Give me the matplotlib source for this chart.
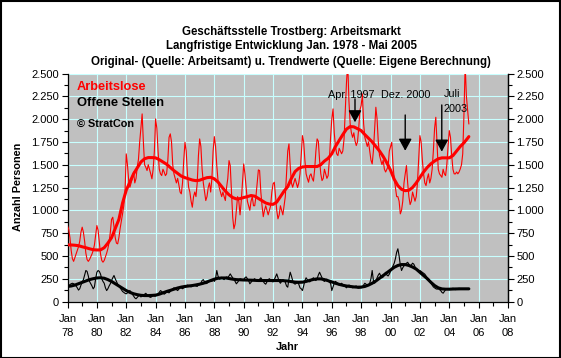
import matplotlib
matplotlib.use('Agg')
import matplotlib.pyplot as plt
import numpy as np
from matplotlib.ticker import MultipleLocator, FuncFormatter, FixedLocator
from matplotlib.patches import Rectangle

plt.rcParams['font.family'] = ['Liberation Sans', 'DejaVu Sans']

# ---------------- data ----------------
start_year = 1978  # Jan 1978, monthly values up to May 2005

arbeitslose = [
    833, 790, 700, 560, 470, 440, 480, 520, 560, 600, 660, 760,      # 1978
    815, 760, 660, 530, 460, 440, 460, 490, 520, 560, 620, 730,      # 1979
    833, 780, 650, 520, 450, 431, 450, 490, 530, 580, 650, 760,      # 1980
    900, 924, 820, 700, 640, 632, 700, 800, 880, 961, 1050, 1200,    # 1981
    1619, 1500, 1326, 1253, 1300, 1350, 1420, 1300, 1350, 1472, 1560, 1750,  # 1982
    1900, 2057, 1750, 1500, 1472, 1436, 1500, 1450, 1400, 1345, 1450, 1650,  # 1983
    2002, 1900, 1650, 1450, 1400, 1381, 1450, 1420, 1380, 1400, 1550, 1800,  # 1984
    1838, 1750, 1500, 1400, 1350, 1300, 1350, 1280, 1200, 1180, 1300, 1550,  # 1985
    1746, 1650, 1400, 1253, 1200, 1100, 1034, 1150, 1200, 1150, 1300, 1600,  # 1986
    1783, 1700, 1450, 1300, 1200, 1107, 1150, 1250, 1300, 1200, 1350, 1650,  # 1987
    1808, 1700, 1490, 1326, 1250, 1200, 1150, 1200, 1150, 1107, 1250, 1350,  # 1988
    1545, 1490, 1200, 924, 797, 850, 1000, 1150, 1100, 950, 1100, 1300,      # 1989
    1509, 1399, 1250, 1100, 1050, 1000, 1100, 1150, 1050, 1050, 1150, 1300,  # 1990
    1443, 1436, 1200, 1050, 930, 1000, 1050, 1000, 950, 1000, 1050, 1200,   # 1991
    1290, 1308, 1150, 1000, 906, 950, 1050, 1000, 950, 1050, 1150, 1400,    # 1992
    1650, 1728, 1490, 1300, 1253, 1300, 1350, 1300, 1250, 1300, 1400, 1600,  # 1993
    1819, 1750, 1550, 1400, 1350, 1308, 1380, 1400, 1350, 1320, 1450, 1650,  # 1994
    1783, 1757, 1550, 1400, 1326, 1350, 1450, 1400, 1350, 1380, 1550, 1800,  # 1995
    2000, 2112, 1850, 1700, 1619, 1600, 1680, 1650, 1620, 1650, 1780, 2100,  # 1996
    2400, 2620, 2200, 1950, 1850, 1800, 1850, 1760, 1710, 1750, 1900, 2100,  # 1997
    2150, 2276, 1950, 1800, 1750, 1700, 1750, 1650, 1550, 1509, 1650, 1900,  # 1998
    2130, 2000, 1750, 1600, 1550, 1500, 1550, 1450, 1420, 1450, 1480, 1650,  # 1999
    1700, 1746, 1500, 1350, 1250, 1150, 1150, 1100, 961, 1000, 1100, 1300,   # 2000
    1400, 1490, 1300, 1150, 1063, 1100, 1200, 1150, 1100, 1150, 1300, 1550,  # 2001
    1819, 1750, 1550, 1400, 1300, 1271, 1350, 1400, 1300, 1350, 1450, 1650,  # 2002
    1900, 2020, 1728, 1450, 1400, 1380, 1362, 1450, 1400, 1380, 1500, 1700,  # 2003
    1874, 1800, 1600, 1450, 1400, 1399, 1420, 1400, 1420, 1454, 1500, 1619,  # 2004
    2050, 2600, 2250, 2100, 1948,                                            # 2005
]

offene_stellen = [
    160, 170, 185, 195, 200, 195, 185, 170, 150, 125, 140, 180,      # 1978
    212, 240, 290, 340, 330, 280, 220, 194, 170, 139, 160, 250,      # 1979
    321, 340, 330, 300, 249, 220, 200, 150, 120, 140, 170, 194,      # 1980
    230, 260, 285, 250, 220, 190, 170, 150, 130, 110, 100, 90,       # 1981
    84, 95, 110, 120, 100, 80, 60, 40, 30, 45, 60, 70,               # 1982
    50, 60, 70, 80, 90, 75, 60, 50, 45, 55, 65, 60,                  # 1983
    60, 70, 85, 100, 120, 110, 95, 80, 90, 105, 100, 95,             # 1984
    110, 125, 140, 150, 145, 130, 120, 135, 160, 150, 140, 150,      # 1985
    155, 165, 180, 175, 170, 160, 175, 180, 175, 170, 165, 180,      # 1986
    185, 200, 230, 240, 215, 195, 200, 210, 225, 230, 220, 240,      # 1987
    220, 250, 340, 280, 245, 250, 265, 250, 240, 260, 270, 265,      # 1988
    280, 303, 280, 260, 240, 220, 194, 210, 230, 250, 245, 230,      # 1989
    240, 260, 270, 250, 230, 194, 210, 230, 240, 250, 230, 220,      # 1990
    225, 245, 260, 240, 220, 200, 190, 215, 240, 250, 235, 220,      # 1991
    215, 240, 270, 303, 260, 220, 200, 220, 240, 230, 210, 170,      # 1992
    157, 250, 321, 280, 230, 200, 190, 200, 210, 190, 150, 140,      # 1993
    120, 170, 230, 260, 240, 220, 215, 230, 250, 260, 240, 230,      # 1994
    250, 290, 321, 290, 260, 230, 220, 240, 245, 230, 210, 200,      # 1995
    120, 160, 200, 220, 210, 200, 180, 190, 200, 185, 170, 165,      # 1996
    150, 170, 180, 175, 160, 150, 155, 165, 170, 150, 145, 150,      # 1997
    150, 160, 180, 200, 190, 175, 180, 200, 250, 340, 230, 200,      # 1998
    220, 260, 290, 310, 280, 260, 270, 300, 320, 290, 280, 300,      # 1999
    330, 360, 390, 420, 470, 540, 578, 500, 400, 340, 370, 390,      # 2000
    400, 420, 430, 410, 390, 400, 420, 410, 380, 360, 350, 340,      # 2001
    340, 330, 320, 310, 300, 280, 260, 250, 230, 200, 180, 160,      # 2002
    150, 140, 135, 140, 130, 120, 100, 91, 110, 130, 140, 135,       # 2003
    130, 135, 140, 145, 140, 130, 135, 140, 145, 140, 135, 140,      # 2004
    140, 138, 140, 142, 139,                                         # 2005
]

# quarterly trend values (Jan, Apr, Jul, Oct), last value = May 2005
trend_arbeitslose = [
    621, 620, 617, 612,  600, 590, 578, 568,  565, 566, 590, 640,
    700, 800, 900, 1080,  1220, 1310, 1400, 1465,  1530, 1565, 1578, 1578,
    1575, 1555, 1530, 1505,  1470, 1435, 1405, 1375,  1358, 1345, 1332, 1325,
    1330, 1345, 1358, 1362,  1345, 1310, 1260, 1210,  1170, 1140, 1125, 1128,
    1140, 1150, 1162, 1155,  1130, 1105, 1080, 1068,  1065, 1090, 1150, 1210,
    1260, 1350, 1425, 1460,  1475, 1480, 1480, 1480,  1480, 1500, 1540, 1570,
    1620, 1700, 1765, 1830,  1890, 1918, 1915, 1895,  1874, 1830, 1790, 1750,
    1700, 1650, 1590, 1520,  1440, 1340, 1270, 1230,  1215, 1220, 1250, 1300,
    1360, 1420, 1470, 1510,  1540, 1565, 1575, 1575,  1575, 1600, 1650, 1700,
    1740, 1790, 1808,
]
trend_offene_stellen = [
    165, 170, 180, 195,  210, 225, 240, 250,  258, 260, 255, 240,
    220, 195, 170, 145,  120, 100, 85, 75,  68, 65, 65, 67,
    70, 80, 95, 110,  122, 135, 148, 158,  165, 170, 175, 182,
    190, 200, 215, 230,  245, 255, 258, 258,  252, 245, 240, 238,
    236, 235, 234, 232,  230, 230, 230, 230,  230, 230, 230, 228,
    225, 218, 212, 210,  212, 220, 232, 242,  248, 248, 240, 228,
    215, 200, 188, 178,  170, 165, 160, 157,  158, 165, 180, 200,
    225, 255, 285, 315,  345, 375, 395, 405,  405, 395, 378, 355,
    320, 285, 250, 210,  175, 150, 138, 135,  135, 137, 138, 139,
    139, 139, 139,
]

y_ticks = [0, 250, 500, 750, 1000, 1250, 1500, 1750, 2000, 2250, 2500]
x_tick_years = list(range(1978, 2009, 2))

# annotations: (text, x_year, y_value, alignment)
annot_texts = [("Apr. 1997", 1997.35, 2262, 'center'),
               ("Dez. 2000", 2001.05, 2262, 'center'),
               ("Juli", 2003.61, 2270, 'left'),
               ("2003", 2003.61, 2110, 'left')]
# arrows: (x_year, top_value, tip_value)
arrows = [(1997.58, 2222, 1965), (2001.0, 2045, 1653), (2003.49, 2155, 1643)]

# ---------------- figure ----------------
W, H = 561, 358
fig = plt.figure(figsize=(W / 100, H / 100), dpi=100)
fig.patch.set_facecolor('white')

L, R, T, B = 67.5, 508, 73.5, 301.5
ax = fig.add_axes([L / W, 1 - B / H, (R - L) / W, (B - T) / H])
ax.set_facecolor('#C0C0C0')

t_month = start_year + np.arange(len(arbeitslose)) / 12.0
t_os = start_year + np.arange(len(offene_stellen)) / 12.0
q_idx = np.arange(len(trend_arbeitslose)) * 3
q_idx[-1] = len(arbeitslose) - 1
t_q = start_year + q_idx / 12.0
q_idx2 = np.arange(len(trend_offene_stellen)) * 3
q_idx2[-1] = len(offene_stellen) - 1
t_q2 = start_year + q_idx2 / 12.0

ax.plot(t_month, arbeitslose, color='#FF0000', lw=0.8, zorder=3)
ax.plot(t_q, trend_arbeitslose, color='#FF0000', lw=2.2, zorder=4,
        solid_capstyle='round', solid_joinstyle='round')
ax.plot(t_os, offene_stellen, color='black', lw=0.8, zorder=3)
ax.plot(t_q2, trend_offene_stellen, color='black', lw=2.2, zorder=4,
        solid_capstyle='round', solid_joinstyle='round')

ax.set_xlim(1978, 2008)
ax.set_ylim(0, 2500)

grid_c = '#C8FFFF'
ax.xaxis.set_major_locator(FixedLocator(x_tick_years))
ax.xaxis.set_minor_locator(MultipleLocator(1))
ax.set_xticklabels(["Jan\n%02d" % (y % 100) for y in x_tick_years])
ax.yaxis.set_major_locator(FixedLocator(y_ticks))
ax.yaxis.set_minor_locator(MultipleLocator(125))
fmt = FuncFormatter(lambda v, p: ("{:,.0f}".format(v)).replace(",", "."))
ax.yaxis.set_major_formatter(fmt)
ax.grid(True, which='major', color=grid_c, lw=0.8, zorder=1)
ax.set_axisbelow(True)

ax.spines['top'].set_visible(False)
for s in ['left', 'right', 'bottom']:
    ax.spines[s].set_color('black')
    ax.spines[s].set_linewidth(0.9)

ax.tick_params(axis='both', which='major', labelsize=8, length=4, width=0.8,
               direction='out', pad=2)
ax.tick_params(axis='both', which='minor', length=3, width=0.8, direction='out')
ax.tick_params(axis='x', which='major', pad=5)
for lab in ax.get_xticklabels():
    lab.set_linespacing(1.55)

ax2 = ax.twinx()
ax2.set_ylim(0, 2500)
ax2.yaxis.set_major_locator(FixedLocator(y_ticks))
ax2.yaxis.set_minor_locator(MultipleLocator(125))
ax2.yaxis.set_major_formatter(fmt)
ax2.tick_params(axis='y', which='major', labelsize=8, length=4, width=0.8,
                direction='out', pad=2)
ax2.tick_params(axis='y', which='minor', length=3, width=0.8, direction='out')
for s in ['top', 'left', 'bottom']:
    ax2.spines[s].set_visible(False)
ax2.spines['right'].set_linewidth(0.9)

# annotations
for txt, xv, yv, ha in annot_texts:
    ax.text(xv, yv, txt, fontsize=7.8, ha=ha, va='center', color='black', zorder=6)
for xv, top, tip in arrows:
    ax.annotate('', xy=(xv, tip), xytext=(xv, top),
                arrowprops=dict(arrowstyle='-|>,head_length=0.6,head_width=0.33',
                                color='black', lw=1.0, mutation_scale=12,
                                shrinkA=0, shrinkB=0), zorder=6)

# legend texts
fig.text(77 / W, 1 - 87 / H, "Arbeitslose", color='#FF0000',
         fontsize=9.2, fontweight='bold', va='center', ha='left')
fig.text(77 / W, 1 - 103.5 / H, "Offene Stellen", color='black',
         fontsize=9.4, fontweight='bold', va='center', ha='left')
fig.text(77 / W, 1 - 123.5 / H, "\u00a9 StratCon", color='black',
         fontsize=7.8, fontweight='bold', va='center', ha='left')

# titles
cx = 291 / W
fig.text(cx, 1 - 31.5 / H, "Geschäftsstelle Trostberg: Arbeitsmarkt", ha='center', va='center',
         fontsize=8.3, fontweight='bold')
fig.text(cx, 1 - 46.5 / H, "Langfristige Entwicklung Jan. 1978 - Mai 2005", ha='center', va='center',
         fontsize=8.3, fontweight='bold')
fig.text(cx, 1 - 62 / H, "Original- (Quelle: Arbeitsamt) u. Trendwerte (Quelle: Eigene Berechnung)",
         ha='center', va='center', fontsize=8.3, fontweight='bold')

fig.text(18 / W, 1 - 187 / H, "Anzahl Personen", rotation=90, ha='center', va='center',
         fontsize=7.8, fontweight='bold')
fig.text(287 / W, 1 - 347.5 / H, "Jahr", ha='center', va='center', fontsize=7.8, fontweight='bold')

# figure border
fig.patches.append(Rectangle((0.5 / W, 0.5 / H), 1 - 1.5 / W, 1 - 1.5 / H, transform=fig.transFigure,
                             fill=False, edgecolor='black', lw=1.5))

fig.savefig('out.png', dpi=100, facecolor='white')
